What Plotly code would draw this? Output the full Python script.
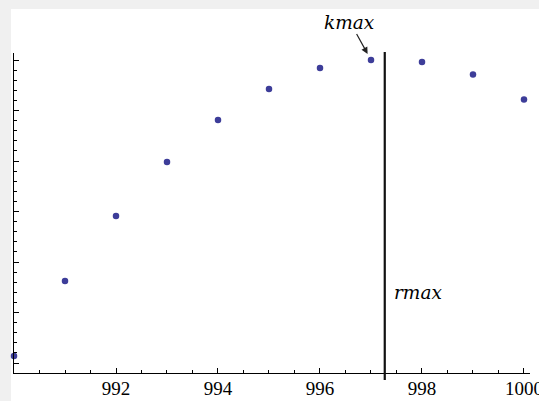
import plotly.graph_objects as go

# Data
x_vals = [990, 991, 992, 993, 994, 995, 996, 997, 998, 999, 1000]
y_vals = [1.139, 2.624, 3.911, 4.980, 5.812, 6.426, 6.842, 7.0, 6.960, 6.713, 6.218]
x_tick_vals = [992, 994, 996, 998, 1000]
x_tick_text = ["992", "994", "996", "998", "1000"]
y_tick_vals = [1, 2, 3, 4, 5, 6, 7]
rmax_x = 997.27
kmax_x = 997
kmax_y = 7.0

W, H = 539, 401
L, R, T, B = 14, 9, 53, 28
PW, PH = W - L - R, H - T - B

fig = go.Figure()
fig.add_trace(go.Scatter(
    x=x_vals, y=y_vals, mode="markers",
    marker=dict(color="#3d3d99", size=6.5),
    cliponaxis=False, showlegend=False, hoverinfo="skip"))

serif = "Liberation Serif"
fig.update_layout(
    width=W, height=H,
    margin=dict(l=L, r=R, t=T, b=B, pad=0, autoexpand=False),
    paper_bgcolor="white",
    plot_bgcolor="rgba(0,0,0,0)",
    showlegend=False,
    xaxis=dict(
        range=[990, 1000.118], showgrid=False, zeroline=False, automargin=False,
        showline=True, linecolor="black", linewidth=1.2,
        tickmode="array", tickvals=x_tick_vals, ticktext=x_tick_text,
        ticks="inside", ticklen=5, tickwidth=1, tickcolor="black",
        tickfont=dict(family=serif, size=19, color="black"),
        ticklabelstandoff=-2, ticklabeloverflow="allow",
        minor=dict(ticks="inside", ticklen=3, tickwidth=1, tickcolor="black",
                   tick0=990, dtick=0.5, showgrid=False),
    ),
    yaxis=dict(
        range=[0.802, 7.139], showgrid=False, zeroline=False, automargin=False,
        showline=True, linecolor="black", linewidth=1.2,
        tickmode="array", tickvals=y_tick_vals, showticklabels=False,
        ticks="inside", ticklen=5, tickwidth=1, tickcolor="black",
        minor=dict(ticks="inside", ticklen=3, tickwidth=1, tickcolor="black",
                   tick0=0, dtick=0.2, showgrid=False),
    ),
    shapes=[
        # light gray frame strips (top and left)
        dict(type="rect", xref="paper", yref="paper",
             x0=-L / PW, x1=1 + R / PW, y0=1 + (T - 9) / PH, y1=1 + T / PH,
             fillcolor="#f0f0f0", line=dict(width=0), layer="below"),
        dict(type="rect", xref="paper", yref="paper",
             x0=-L / PW, x1=(11 - L) / PW, y0=-B / PH, y1=1 + T / PH,
             fillcolor="#f0f0f0", line=dict(width=0), layer="below"),
        dict(type="line", xref="x", yref="paper",
             x0=rmax_x, x1=rmax_x, y0=-7 / PH, y1=1 + 1 / PH,
             line=dict(color="#111111", width=2.2)),
    ],
    annotations=[
        dict(x=kmax_x, y=kmax_y, xref="x", yref="y", text="kmax",
             font=dict(family="DejaVu Serif", size=18.5, color="black", style="italic"),
             showarrow=True, ax=-21, ay=-38, arrowhead=2, arrowsize=1.1,
             arrowwidth=1.2, arrowcolor="#222222", standoff=7),
        dict(x=997.41, y=2.406, xref="x", yref="y", text="rmax",
             font=dict(family="DejaVu Serif", size=18.5, color="black", style="italic"),
             showarrow=False, xanchor="left", yanchor="middle"),
    ],
)

fig.write_html("out.html")
